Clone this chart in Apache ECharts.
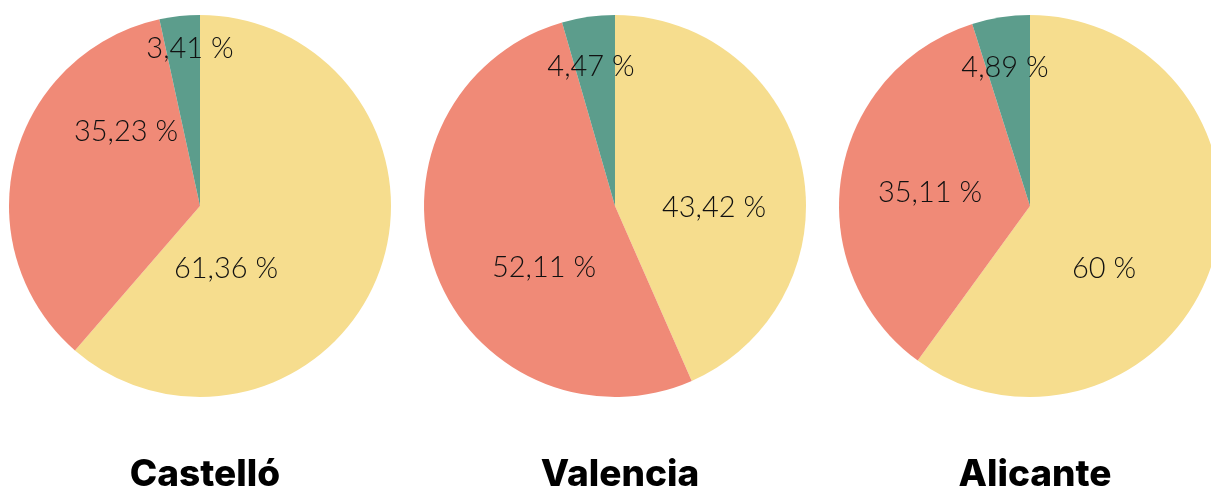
<!DOCTYPE html>
<html>
<head>
<meta charset="utf-8">
<script src="https://cdn.jsdelivr.net/npm/echarts@6/dist/echarts.min.js"></script>
<style>
html,body{margin:0;padding:0;background:#fff;}
#chart{width:1211px;height:489px;}
</style>
</head>
<body>
<div id="chart"></div>
<script>
// datos
var provincias = ['Castelló', 'Valencia', 'Alicante'];
var categorias = ['Categoría 1', 'Categoría 2', 'Categoría 3'];
var castello = [61.36, 35.23, 3.41];
var valencia = [43.42, 52.11, 4.47];
var alicante = [60, 35.11, 4.89];

var colores = ['#F6DD8E', '#F08A77', '#5C9D8C'];
// centro de cada tarta (px)
var centros = [[200, 206], [615, 206], [1030, 206]];
// posicion de cada etiqueta respecto al centro (px)
var offsets = [
	[[26, 63], [-74, -74], [-10, -157]],
	[[99, 2], [-71, 62], [-24, -139]],
	[[74, 63], [-100, -13], [-25, -138]]
];

function fmt(v){
	return String(v).replace('.', ',') + ' %';
}

var valores = [castello, valencia, alicante];
var series = [];
var titles = [];
for (var i = 0; i < valores.length; i++) {
	var data = [];
	for (var j = 0; j < categorias.length; j++) {
		data.push({name: categorias[j], value: valores[i][j]});
	}
	series.push({
		type: 'pie',
		center: centros[i],
		radius: [0, 191],
		startAngle: 90,
		silent: true,
		animation: false,
		itemStyle: {borderWidth: 0},
		label: {
			show: true,
			position: 'inside',
			color: '#111',
			fontFamily: 'Lato',
			fontWeight: 300,
			fontSize: 29,
			formatter: function(p){ return fmt(p.value); }
		},
		labelLine: {show: false},
		labelLayout: function(params){
			var c = centros[params.seriesIndex];
			var o = offsets[params.seriesIndex][params.dataIndex];
			return {x: c[0] + o[0], y: c[1] + o[1], align: 'center', verticalAlign: 'middle'};
		},
		data: data
	});
	titles.push({
		text: provincias[i],
		left: centros[i][0],
		textAlign: 'center',
		top: 451,
		textStyle: {
			color: '#000',
			fontFamily: 'Inter',
			fontWeight: 800,
			fontSize: 37
		}
	});
}

var chart = echarts.init(document.getElementById('chart'));
chart.setOption({
	backgroundColor: '#fff',
	color: colores,
	title: titles,
	series: series
});
</script>
</body>
</html>
